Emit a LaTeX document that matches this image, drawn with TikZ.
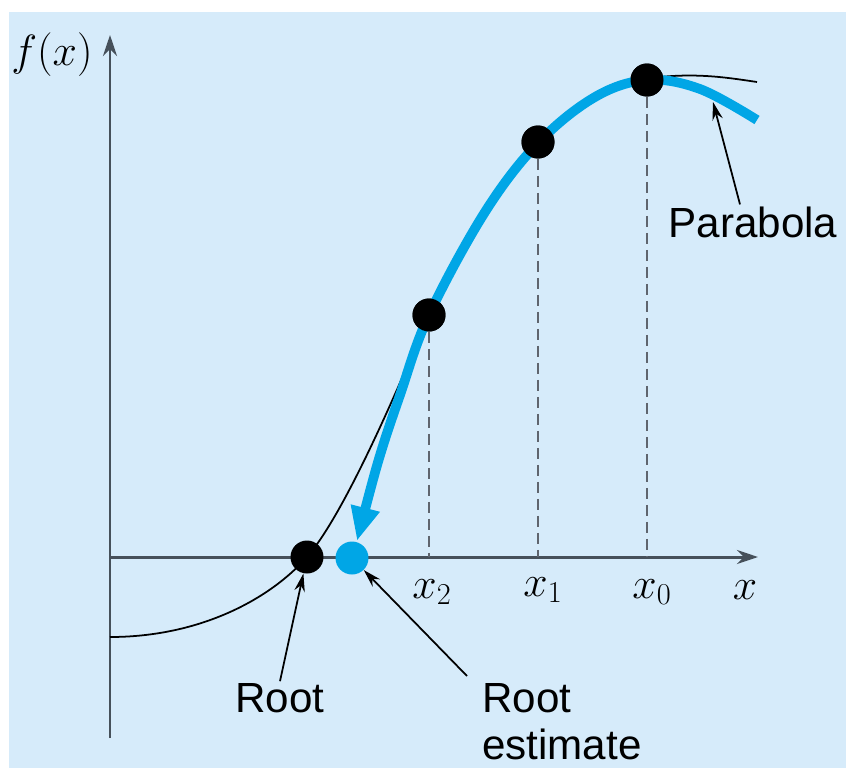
\documentclass[tikz,border=0pt]{standalone}
\usepackage{fontspec}
\usepackage{tikz}
\usetikzlibrary{arrows.meta,positioning,calc}
\newfontfamily\labelfont{Liberation Sans}
\definecolor{panelblue}{RGB}{214,235,250}
\definecolor{axisgray}{RGB}{70,80,90}
\definecolor{parabcyan}{RGB}{0,166,230}
\definecolor{dashgray}{RGB}{95,101,110}

\begin{document}
\begin{tikzpicture}[
    x=0.02cm, y=-0.02cm,
    dot/.style={circle, fill=black, inner sep=0pt, minimum size=0.66cm},
    estdot/.style={circle, fill=parabcyan, inner sep=0pt, minimum size=0.66cm},
    axis/.style={draw=axisgray, line width=1.7pt, -{Stealth[length=0.42cm, width=0.28cm]}},
    guide/.style={draw=dashgray, line width=1.4pt, dash pattern=on 0.22cm off 0.12cm},
    callout/.style={draw=black, line width=1pt, -{Stealth[length=0.36cm, width=0.21cm]}},
    parab/.style={draw=parabcyan, line width=5.5pt, -{Triangle[length=0.68cm, width=0.55cm]}},
    tag/.style={font=\labelfont\fontsize{24}{27}\selectfont, inner sep=1pt},
    mlabel/.style={font=\fontsize{23}{27}\selectfont, inner sep=1pt},
    >=Stealth
]
\useasboundingbox (0,0) rectangle (846,768);
\fill[panelblue] (9,12) rectangle (846,768);

% axes
\coordinate (ybot) at (110,738);
\coordinate (ytop) at (110,35);
\coordinate (xleft) at (110,557);
\coordinate (xright) at (758,557);
\draw[axis] (ybot) -- (ytop);
\draw[axis] (xleft) -- (xright);
\node[mlabel] (fx) at (52,55) {$f(x)$};
\node[mlabel] (xl) at (745,590) {$x$};

% function and its samples
\draw[black, line width=1pt] (110,637) .. controls (200,637) and (270,599) .. (307,557)
    .. controls (347,511) and (404,374) .. (429,315)
    .. controls (460,243) and (500,185) .. (538,142)
    .. controls (575,100) and (615,82) .. (660,77)
    .. controls (700,73) and (730,78) .. (757,82);

\node[dot] (p0) at (647,80) {};
\node[dot] (p1) at (538,142) {};
\node[dot] (p2) at (429,315) {};
\coordinate (a0) at (647,557);
\coordinate (a1) at (538,557);
\coordinate (a2) at (429,557);
\draw[guide] (p0) -- (a0);
\draw[guide] (p1) -- (a1);
\draw[guide] (p2) -- (a2);
\node[mlabel] (x0) at (652,592) {$x_0$};
\node[mlabel] (x1) at (543,590) {$x_1$};
\node[mlabel] (x2) at (432,592) {$x_2$};

% parabola through the three points
\draw[parab] plot[smooth, tension=0.6] coordinates {(757,120) (700,89) (647,80) (595,97) (538,143) (485,212) (429,315) (400,395) (378,462) (357,541)};
\node[dot] at (p0) {};
\node[dot] at (p1) {};
\node[dot] at (p2) {};

\node[dot] (root) at (307,557) {};
\node[estdot] (est) at (352,558) {};

% callouts
\node[tag] (parlabel) at (753,222) {Parabola};
\coordinate (parpt) at (713,102);
\draw[callout] ([xshift=-0.26cm]parlabel.north) -- (parpt);

\node[tag] (rootlabel) at (280,698) {Root};
\draw[callout] (rootlabel.north) -- (root);

\node[tag, align=left, anchor=north west] (estlabel) at (480,681) {Root\\estimate};
\draw[callout] ([shift={(-13,-5)}]estlabel.north west) -- (est);
\end{tikzpicture}
\end{document}
